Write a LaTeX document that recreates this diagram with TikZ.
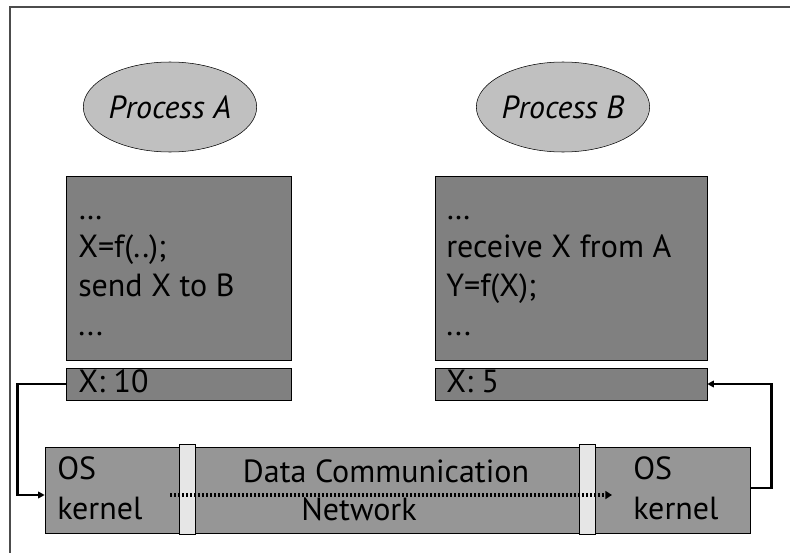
\documentclass[tikz,border=0pt]{standalone}
\usepackage{fontspec}
\setmainfont{PT Sans}
\usetikzlibrary{shapes.geometric,arrows.meta}
\definecolor{boxgray}{RGB}{128,128,128}
\definecolor{bargray}{RGB}{150,150,150}
\definecolor{procgray}{RGB}{192,192,192}
\definecolor{sepgray}{RGB}{230,230,230}
\tikzset{
  proc/.style={ellipse,draw,fill=procgray,inner sep=0pt,minimum width=120pt,minimum height=67.5pt,font=\fontsize{24}{28}\selectfont\itshape},
  code/.style={draw,fill=boxgray,inner sep=0pt,minimum width=#1,minimum height=138pt},
  mem/.style={draw,fill=boxgray,inner sep=0pt,minimum width=#1,minimum height=24pt},
  sep/.style={draw,fill=sepgray,inner sep=0pt,minimum width=12pt,minimum height=67.5pt},
  txt/.style={inner sep=0pt,font=\fontsize{24}{29}\selectfont,align=left},
  link/.style={line width=2pt,-{Triangle[length=5pt,width=5pt]}},
}
\begin{document}
\begin{tikzpicture}[x=0.75pt,y=-0.75pt]
  \useasboundingbox (0,0) rectangle (790,553);
  \draw[line width=0.8pt,black!70] (10,553) -- (10,7) -- (790,7);

  \node[proc] (procA) at (170,107) {Process A};
  \node[proc] (procB) at (563,107) {Process B};

  \node[code=168.75pt] (codeA) at (178.5,268) {};
  \node[code=204pt] (codeB) at (571,268) {};
  \node[txt,anchor=base west] (codeAtxt) at (78,335) {\dots\\X=f(..);\\send X to B\\...};
  \node[txt,anchor=base west] (codeBtxt) at (446,335) {\dots\\receive X from A\\Y=f(X);\\...};

  \node[mem=168.75pt] (memA) at (178.5,384) {};
  \node[mem=204pt] (memB) at (571,384) {};
  \node[txt,anchor=base west] (memAtxt) at (78,392) {X: 10};
  \node[txt,anchor=base west] (memBtxt) at (446,392) {X: 5};

  \node[draw,fill=bargray,inner sep=0pt,minimum width=528.75pt,minimum height=64.5pt] (net) at (397.5,490) {};
  \node[sep] (sepL) at (187,489) {};
  \node[sep] (sepR) at (587,489) {};

  \coordinate (sendA) at (170,495);
  \coordinate (recvB) at (612,495);
  \draw[line width=2.4pt,dash pattern=on 1.8pt off 1.2pt,-{Triangle[length=5pt,width=6pt]}] (sendA) -- (recvB);

  \node[txt,anchor=base west,font=\fontsize{24}{30}\selectfont] (osA) at (57,519) {OS\\kernel};
  \node[txt,anchor=base west,font=\fontsize{24}{30}\selectfont] (osB) at (633,519) {OS\\kernel};
  \node[txt,anchor=base] (netTop) at (386,482) {Data Communication};
  \node[txt,anchor=base] (netBot) at (359,520) {Network};

  \coordinate (kinA) at (net.west |- sendA);
  \coordinate (koutB) at (net.east |- 0,488);
  \draw[link] (memA.west) -- ++(-48,0) |- (kinA);
  \draw[link] (koutB) -- ++(21,0) |- (memB.east);
\end{tikzpicture}
\end{document}
